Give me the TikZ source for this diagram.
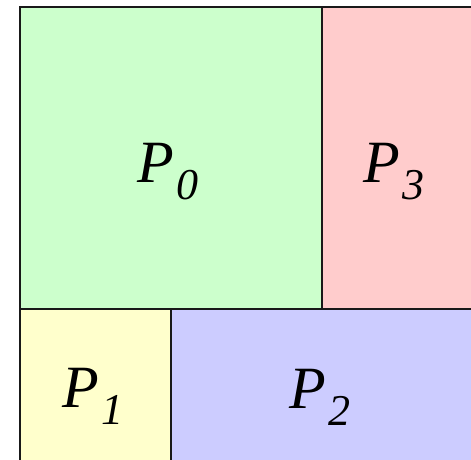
\documentclass[tikz,border=0pt]{standalone}
\usepackage{fontspec}
\setmainfont{Liberation Serif}
\definecolor{partgreen}{HTML}{CCFFCC}
\definecolor{partpink}{HTML}{FFCCCC}
\definecolor{partyellow}{HTML}{FFFFCC}
\definecolor{partblue}{HTML}{CCCCFF}
\newcommand{\partlabel}[1]{\fontsize{60}{64}\selectfont\itshape P\kern3pt\raisebox{-17pt}{\fontsize{44}{48}\selectfont #1}}

\begin{document}
\begin{tikzpicture}[x=1pt,y=-1pt,
    partbox/.style={draw=black!90,line width=2.6pt},
    partname/.style={anchor=base west,inner sep=0pt}]
    \path[use as bounding box] (0,0) rectangle (471,459);

    % Four partitions of the square, the right and bottom edges run off the page.
    \filldraw[partbox,fill=partgreen] (20,7) rectangle (322,309);
    \filldraw[partbox,fill=partpink] (322,7) rectangle (474,309);
    \filldraw[partbox,fill=partyellow] (20,309) rectangle (171,462);
    \filldraw[partbox,fill=partblue] (171,309) rectangle (474,462);

    % Labels, placed on their baselines.
    \node[partname] (p0) at (137,182) {\partlabel{0}};
    \node[partname] (p3) at (363,182) {\partlabel{3}};
    \node[partname] (p1) at (62,407) {\partlabel{1}};
    \node[partname] (p2) at (289,408) {\partlabel{2}};
\end{tikzpicture}
\end{document}
